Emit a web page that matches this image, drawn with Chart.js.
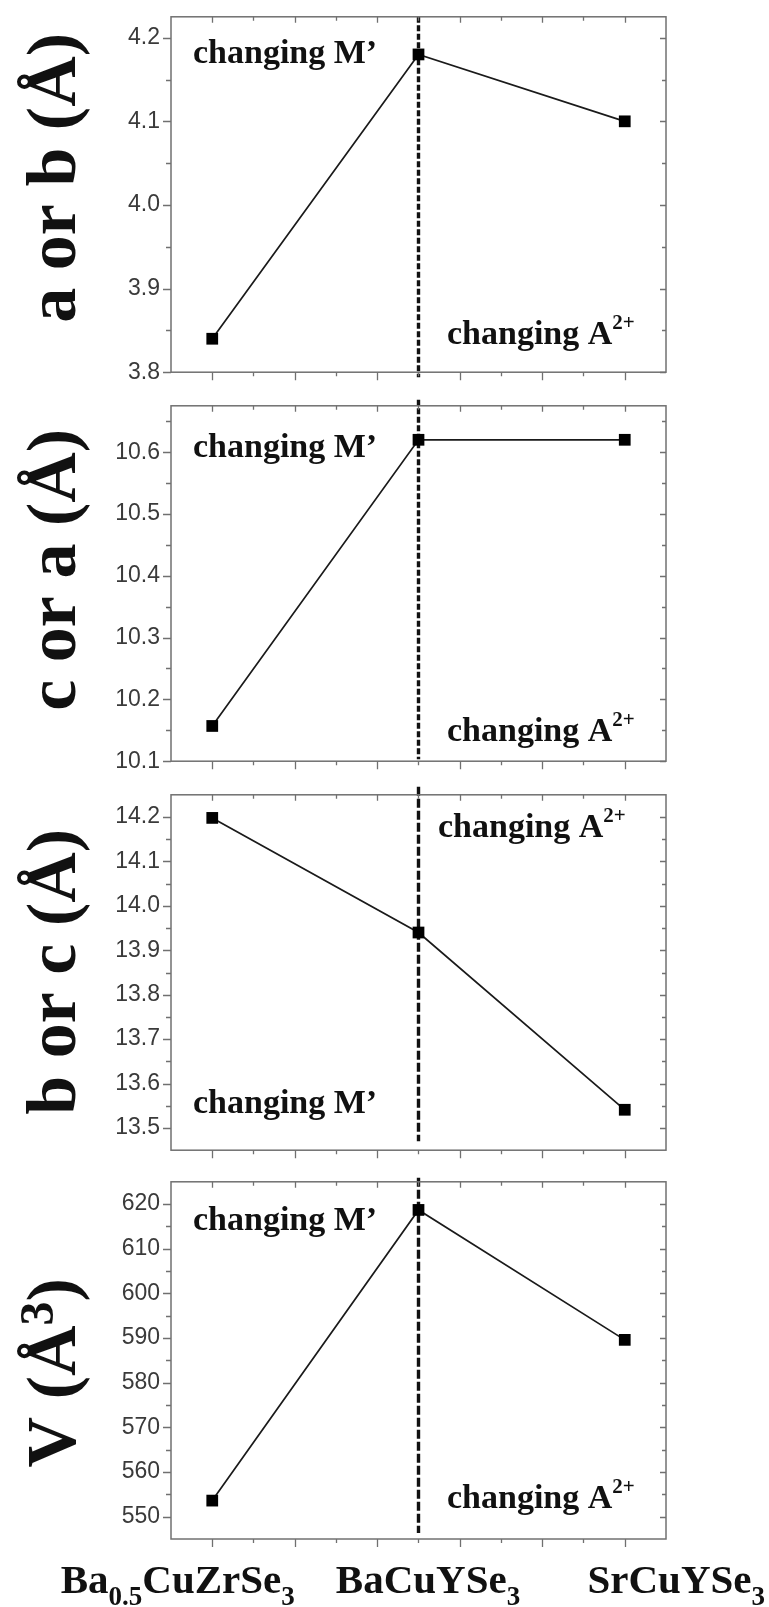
<!DOCTYPE html>
<html><head><meta charset="utf-8">
<script src="https://cdn.jsdelivr.net/npm/chart.js@4.4.1/dist/chart.umd.min.js"></script>
<style>
html,body{margin:0;padding:0;background:#fff;}
body{width:769px;height:1607px;position:relative;overflow:hidden;}
canvas{position:absolute;left:0;display:block;}
</style></head><body>
<canvas id="c1" width="769" height="389" style="top:0px"></canvas>
<canvas id="c2" width="769" height="389" style="top:389px"></canvas>
<canvas id="c3" width="769" height="389" style="top:778px"></canvas>
<canvas id="c4" width="769" height="442" style="top:1165px"></canvas>
<script>
// ---------- data ----------
const categories = ['Ba_{0.5}CuZrSe_{3}', 'BaCuYSe_{3}', 'SrCuYSe_{3}'];
const categoryX = [1, 2, 3];
const abValues = [3.84, 4.18, 4.10];
const caValues = [10.157, 10.62, 10.62];
const bcValues = [14.198, 13.94, 13.541];
const vValues  = [553.6, 618.7, 589.6];
const abTicks = [3.8, 3.9, 4.0, 4.1, 4.2];
const caTicks = [10.1, 10.2, 10.3, 10.4, 10.5, 10.6];
const bcTicks = [13.5, 13.6, 13.7, 13.8, 13.9, 14.0, 14.1, 14.2];
const vTicks  = [550, 560, 570, 580, 590, 600, 610, 620];
const xMajorTicks = [1.0, 1.4, 1.8, 2.2, 2.6, 3.0];
const xMinorTicks = [1.2, 1.6, 2.0, 2.4, 2.8];
const yTitles = ['a or b (Å)', 'c or a (Å)', 'b or c (Å)', 'V (Å^{3})'];
const noteM = 'changing M’';
const noteA = 'changing A^{2+}';
const dividerX = 2;

// ---------- styling / layout ----------
const SERIF = "'Liberation Serif','Times New Roman',serif";
const SANS = "'Liberation Sans',Arial,sans-serif";
const FRAME = '#707070';

const panels = [
  {id:'c1', values:abValues, ticks:abTicks, min:3.8, max:4.225, dec:1, title:yTitles[0], titleDy:161,
   notes:[{t:noteM, dx:22, from:'top', dy:46},{t:noteA, dx:276, from:'bottom', dy:-28}],
   xAxisH:14, dash:[6,2.5], dashExt:[0,5], xLabels:false},
  {id:'c2', values:caValues, ticks:caTicks, min:10.1, max:10.675, dec:1, title:yTitles[1], titleDy:164,
   notes:[{t:noteM, dx:22, from:'top', dy:51},{t:noteA, dx:276, from:'bottom', dy:-20}],
   xAxisH:16, dash:[6,2.5], dashExt:[6,-2], xLabels:false},
  {id:'c3', values:bcValues, ticks:bcTicks, min:13.45, max:14.25, dec:1, title:yTitles[2], titleDy:177,
   notes:[{t:noteA, dx:267, from:'top', dy:42},{t:noteM, dx:22, from:'bottom', dy:-37}],
   xAxisH:16, dash:[9,3], dashExt:[8,-9], xLabels:false},
  {id:'c4', values:vValues, ticks:vTicks, min:545, max:625, dec:0, title:yTitles[3], titleDy:191,
   notes:[{t:noteM, dx:22, from:'top', dy:48},{t:noteA, dx:276, from:'bottom', dy:-31}],
   xAxisH:68, dash:[9,3], dashExt:[4,-6], xLabels:true}
];
const xLabelShift = [-34.5, 9.5, 51.5];

// ---------- helpers ----------
function parseRich(s){
  const out=[]; const re=/([_^])\{([^}]*)\}/g; let last=0, m;
  while((m=re.exec(s))){
    if(m.index>last) out.push({t:s.slice(last,m.index),k:'n'});
    out.push({t:m[2],k:m[1]==='_'?'sub':'sup'});
    last=re.lastIndex;
  }
  if(last<s.length) out.push({t:s.slice(last),k:'n'});
  return out;
}
function drawRich(ctx, s, x, y, st){
  const segs=parseRich(s);
  let w=0;
  segs.forEach(g=>{
    g.sz = g.k==='n'?st.size:(g.k==='sub'?st.subSize:st.supSize);
    ctx.font = 'bold '+g.sz+'px '+SERIF;
    g.w = ctx.measureText(g.t).width; w+=g.w;
  });
  let cx = st.align==='center' ? x-w/2 : x;
  ctx.textAlign='left'; ctx.textBaseline='alphabetic'; ctx.fillStyle='#111';
  segs.forEach(g=>{
    ctx.font = 'bold '+g.sz+'px '+SERIF;
    const dy = g.k==='sub'?st.subDy:(g.k==='sup'?-st.supDy:0);
    ctx.fillText(g.t, cx, y+dy);
    cx+=g.w;
  });
}
function minorsOf(ticks, min, max){
  const step = ticks[1]-ticks[0]; const res=[];
  for(let i=-1;i<ticks.length;i++){
    const v = ticks[0]+step*(i+0.5);
    if(v>min+1e-9 && v<max-1e-9) res.push(v);
  }
  return res;
}

function makeDeco(p){
  return {
    id:'deco_'+p.id,
    beforeDatasetsDraw(chart){
      const {ctx, chartArea:a, scales:{x}} = chart;
      const px = x.getPixelForValue(dividerX);
      ctx.save();
      ctx.strokeStyle='#111'; ctx.lineWidth=3.4; ctx.setLineDash(p.dash);
      ctx.beginPath();
      ctx.moveTo(px, Math.max(0,a.top-p.dashExt[0]));
      ctx.lineTo(px, a.bottom+p.dashExt[1]);
      ctx.stroke();
      ctx.restore();
    },
    afterDraw(chart){
      const {ctx, chartArea:a, scales:{x,y}} = chart;
      ctx.save();
      ctx.strokeStyle=FRAME; ctx.lineWidth=1.5;
      ctx.strokeRect(a.left, a.top, a.right-a.left, a.bottom-a.top);
      ctx.lineWidth=1.3;
      ctx.beginPath();
      const yMin = minorsOf(p.ticks, p.min, p.max);
      p.ticks.forEach(v=>{ const py=Math.round(y.getPixelForValue(v))+0.5;
        ctx.moveTo(a.left-8,py); ctx.lineTo(a.left,py);
        ctx.moveTo(a.right-6,py); ctx.lineTo(a.right,py); });
      yMin.forEach(v=>{ const py=Math.round(y.getPixelForValue(v))+0.5;
        ctx.moveTo(a.left-5,py); ctx.lineTo(a.left,py);
        ctx.moveTo(a.right-4,py); ctx.lineTo(a.right,py); });
      xMajorTicks.forEach(v=>{ const px=Math.round(x.getPixelForValue(v))+0.5;
        ctx.moveTo(px,a.bottom); ctx.lineTo(px,a.bottom+8);
        ctx.moveTo(px,a.top); ctx.lineTo(px,a.top+6); });
      xMinorTicks.forEach(v=>{ const px=Math.round(x.getPixelForValue(v))+0.5;
        ctx.moveTo(px,a.bottom); ctx.lineTo(px,a.bottom+4);
        ctx.moveTo(px,a.top); ctx.lineTo(px,a.top+4); });
      ctx.stroke();
      p.notes.forEach(n=>{
        const yy = n.from==='top' ? a.top+n.dy : a.bottom+n.dy;
        drawRich(ctx, n.t, a.left+n.dx, yy, {size:34, supSize:21, supDy:15, subSize:22, subDy:8, align:'left'});
      });
      ctx.save();
      ctx.translate(75, a.top+p.titleDy);
      ctx.rotate(-Math.PI/2);
      drawRich(ctx, p.title, 0, 0, {size:70, supSize:48, supDy:22, subSize:40, subDy:10, align:'center'});
      ctx.restore();
      if(p.xLabels){
        categories.forEach((c,i)=>{
          const px = x.getPixelForValue(categoryX[i]) + xLabelShift[i];
          drawRich(ctx, c, px, a.bottom+54, {size:41, subSize:27, subDy:12, supSize:27, supDy:12, align:'center'});
        });
      }
      ctx.restore();
    }
  };
}

panels.forEach(p=>{
  new Chart(document.getElementById(p.id), {
    type:'line',
    data:{ datasets:[{
      data: p.values.map((v,i)=>({x:categoryX[i], y:v})),
      borderColor:'#1a1a1a', borderWidth:1.7, tension:0,
      pointStyle:'rect', pointRadius:8.3, pointBackgroundColor:'#000',
      pointBorderColor:'#000', pointBorderWidth:0, clip:false
    }]},
    options:{
      responsive:false, animation:false, devicePixelRatio:1,
      layout:{padding:{top:10, right:103, left:0, bottom:0}},
      plugins:{legend:{display:false}, tooltip:{enabled:false}},
      scales:{
        x:{type:'linear', min:0.8, max:3.2,
           ticks:{display:false}, grid:{display:false}, border:{display:false},
           afterFit:(s)=>{ s.height = p.xAxisH; }},
        y:{type:'linear', min:p.min, max:p.max,
           afterBuildTicks:(s)=>{ s.ticks = p.ticks.map(v=>({value:v})); },
           ticks:{color:'#3a3a3a', font:{family:SANS, size:23}, padding:3, autoSkip:false,
                  callback:(v)=>Number(v).toFixed(p.dec)},
           grid:{display:true, drawOnChartArea:false, color:'rgba(0,0,0,0)', tickLength:8},
           border:{display:false},
           afterFit:(s)=>{ s.width = 171; }}
      }
    },
    plugins:[makeDeco(p)]
  });
});
</script>
</body></html>
